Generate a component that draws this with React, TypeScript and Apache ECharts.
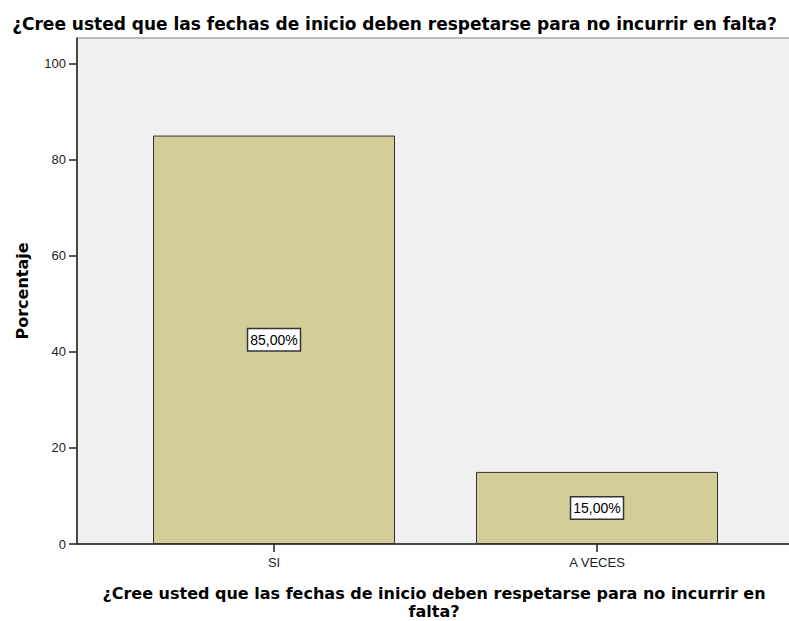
import React, { useEffect, useRef } from "react";
import * as echarts from "echarts";

const TITLE = "¿Cree usted que las fechas de inicio deben respetarse para no incurrir en falta?";
const X_NAME = "¿Cree usted que las fechas de inicio deben respetarse para no incurrir en\nfalta?";
const Y_NAME = "Porcentaje";
const categories = ["SI", "A VECES"];
const percentages = [85, 15];
const yTicks = [0, 20, 40, 60, 80, 100];

export default function App() {
  const ref = useRef<HTMLDivElement>(null);
  useEffect(() => {
    if (!ref.current) return;
    const chart = echarts.init(ref.current, undefined, { renderer: "svg" });
    const font = "'Liberation Sans', Arial, sans-serif";
    const boldFont = "'DejaVu Sans', Verdana, sans-serif";
    const positions = categories.map((_, i) => i);
    chart.setOption({
      animation: false,
      backgroundColor: "#ffffff",
      textStyle: { fontFamily: font },
      title: {
        text: TITLE,
        left: "center",
        top: 10,
        textStyle: { fontFamily: boldFont, fontSize: 17, fontWeight: "bold", color: "#000" },
      },
      grid: {
        left: 77,
        right: -2,
        top: 38,
        bottom: 77,
        outerBoundsMode: "none",
        containLabel: false,
        show: true,
        backgroundColor: "#f0f0f0",
        borderColor: "#808080",
        borderWidth: 1,
      },
      xAxis: {
        type: "value",
        min: -0.61,
        max: 1.6006,
        name: X_NAME,
        nameLocation: "middle",
        nameGap: 40,
        nameTextStyle: { fontFamily: boldFont, fontSize: 16, fontWeight: "bold", color: "#000", lineHeight: 18 },
        axisLine: { show: true, onZero: false, lineStyle: { color: "#222", width: 1.5 } },
        axisTick: { show: true, length: 8, customValues: positions, lineStyle: { color: "#222", width: 1.5 } },
        axisLabel: {
          customValues: positions,
          formatter: (v: number) => categories[Math.round(v)] ?? "",
          fontSize: 13,
          color: "#222",
          margin: 12,
        },
        splitLine: { show: false },
      },
      yAxis: {
        type: "value",
        min: 0,
        max: 105.3,
        name: Y_NAME,
        nameLocation: "middle",
        nameGap: 47,
        nameTextStyle: { fontFamily: boldFont, fontSize: 16, fontWeight: "bold", color: "#000" },
        axisLine: { show: true, onZero: false, lineStyle: { color: "#222", width: 1.5 } },
        axisTick: { show: true, length: 8, customValues: yTicks, lineStyle: { color: "#222", width: 1.5 } },
        axisLabel: { customValues: yTicks, fontSize: 13, color: "#222", margin: 11 },
        splitLine: { show: false },
      },
      series: [
        {
          type: "bar",
          barWidth: 242,
          data: positions.map((p, i) => [p, percentages[i]]),
          itemStyle: { color: "#d3ce98", borderColor: "#333", borderWidth: 1 },
          label: {
            show: true,
            position: "inside",
            formatter: (p: any) => p.value[1].toFixed(2).replace(".", ",") + "%",
            fontFamily: font,
            fontSize: 14,
            color: "#000",
            backgroundColor: "#fff",
            borderColor: "#333",
            borderWidth: 1.5,
            padding: [4, 2, 3, 2],
          },
        },
      ],
    });
    return () => chart.dispose();
  }, []);
  return <div ref={ref} style={{ position: "fixed", left: 0, top: 0, width: 789, height: 621 }} />;
}
